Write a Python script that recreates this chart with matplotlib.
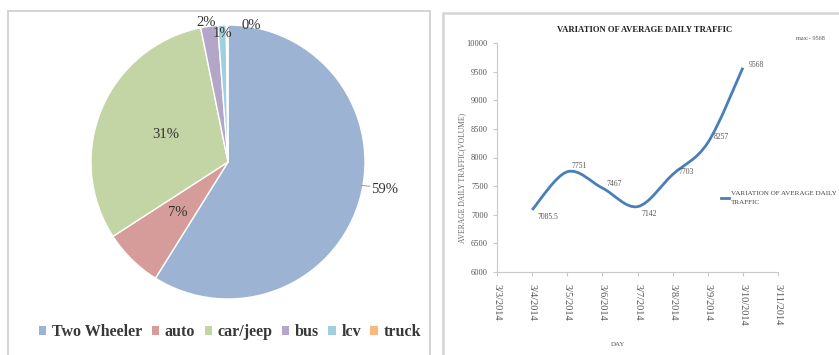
import numpy as np
import matplotlib
matplotlib.use("Agg")
import matplotlib.pyplot as plt
from matplotlib.path import Path
from matplotlib.patches import PathPatch, Rectangle
from matplotlib.lines import Line2D

# vehicle composition (percent)
vehicles = ['Two Wheeler', 'auto', 'car/jeep', 'bus', 'lcv', 'truck']
shares = [59., 7., 31., 2., 1., 0.2]
colors = ['#9db3d3', '#d59c9a', '#c3d4a5', '#b3a6c9', '#9fd0e0', '#f6b980']

# average daily traffic
days = [4, 5, 6, 7, 8, 9, 10]
traffic = [7085.5, 7751, 7467, 7142, 7703, 8257, 9568]
day_ticks = [3, 4, 5, 6, 7, 8, 9, 10, 11]
day_labels = ['3/%d/2014' % d for d in day_ticks]

W, H = 839, 355
fig = plt.figure(figsize=(W / 100, H / 100), dpi=100)
serif = 'Liberation Serif'

def fx(px):
    return px / W

def fy(py):
    return 1 - py / H

# panel frames
fig.patches.append(Rectangle((fx(8), fy(360)), fx(430) - fx(8), fy(11) - fy(360),
                             transform=fig.transFigure, fill=False, ec='#cdcdcd', lw=1.2))
fig.patches.append(Rectangle((fx(443), fy(360)), fx(860) - fx(443), fy(13) - fy(360),
                             transform=fig.transFigure, fill=False, ec='#d4d4d4', lw=1.8))

# ---- pie ----
cx, cy, r = 228, 162, 137
ax1 = fig.add_axes([fx(cx - r), fy(cy + r), fx(2 * r), (2 * r) / H])
wedges, _ = ax1.pie(shares, colors=colors, startangle=90, counterclock=False,
                    wedgeprops=dict(edgecolor='white', linewidth=1))
ax1.set_xlim(-1, 1)
ax1.set_ylim(-1, 1)
ax1.set_aspect('equal')

# label distance / angle nudge per slice
lab_dist = [1.16, 0.52, 0.50, 1.03, 0.94, 1.01]
lab_shift = [6, 0, -1, 1, 0, -10]
for i, w in enumerate(wedges):
    ang = np.deg2rad((w.theta1 + w.theta2) / 2 + lab_shift[i])
    tx, ty = lab_dist[i] * np.cos(ang), lab_dist[i] * np.sin(ang)
    ax1.text(tx, ty, '%.0f%%' % shares[i], ha='center', va='center',
             fontsize=10.5, family=serif, color='#333333', clip_on=False)
# leader line for the outside label
ang = np.deg2rad((wedges[0].theta1 + wedges[0].theta2) / 2 + 6)
ax1.plot([0.99 * np.cos(ang), 1.05 * np.cos(ang)], [0.99 * np.sin(ang), 1.02 * np.sin(ang)],
         color='#888888', lw=0.6, clip_on=False)

handles = [Rectangle((0, 0), 1, 1, fc=c, ec='none') for c in colors]
fig.legend(handles, vehicles, loc='center', bbox_to_anchor=(fx(230), fy(332)), ncol=6,
           frameon=False, handlelength=0.45, handleheight=0.45, handletextpad=0.35,
           columnspacing=0.6, prop=dict(family=serif, size=11.5, weight='bold'),
           labelcolor='#383838')

# ---- line chart ----
ax2 = fig.add_axes([fx(497), fy(272), fx(778) - fx(497), (272 - 43) / H])
x = np.array(days, float)
y = np.array(traffic, float)
verts = [(x[0], y[0])]
codes = [Path.MOVETO]
n = len(x)
for i in range(n - 1):
    p0 = np.array([x[max(i - 1, 0)], y[max(i - 1, 0)]])
    p1 = np.array([x[i], y[i]])
    p2 = np.array([x[i + 1], y[i + 1]])
    p3 = np.array([x[min(i + 2, n - 1)], y[min(i + 2, n - 1)]])
    c1 = p1 + (p2 - p0) / 6
    c2 = p2 - (p3 - p1) / 6
    verts += [tuple(c1), tuple(c2), tuple(p2)]
    codes += [Path.CURVE4] * 3
ax2.add_patch(PathPatch(Path(verts, codes), fc='none', ec='#4a7ebb', lw=2))

ax2.set_xlim(3, 11)
ax2.set_ylim(6000, 10000)
ax2.set_xticks(day_ticks)
ax2.set_xticklabels(day_labels, rotation=-90, fontsize=7.5, family=serif)
ax2.set_yticks(np.arange(6000, 10001, 500))
ax2.set_yticklabels([str(v) for v in range(6000, 10001, 500)], fontsize=6, family=serif)
for s in ['top', 'right']:
    ax2.spines[s].set_visible(False)
for s in ['left', 'bottom']:
    ax2.spines[s].set_color('#c8c8c8')
ax2.tick_params(colors='#c8c8c8', length=3, width=0.8, labelcolor='#555555')
ax2.tick_params(axis='x', pad=6)

offs = [(4, -5), (3, 4), (3, 3), (3, -5), (4, 2), (4, 4), (4, 2)]
for xi, yi, o in zip(days, traffic, offs):
    ax2.annotate('%g' % yi, (xi, yi), xytext=o, textcoords='offset points',
                 fontsize=5.5, family=serif, color='#555555', va='center')

ax2.set_ylabel('AVERAGE DAILY TRAFFIC(VOLUME)', fontsize=5.5, family=serif,
               color='#666666')
ax2.yaxis.set_label_coords(-0.11, 0.41)
ax2.set_xlabel('DAY', fontsize=5, family=serif, color='#555555')
ax2.xaxis.set_label_coords(0.43, -0.305)

fig.text(fx(645), fy(30), 'VARIATION OF AVERAGE DAILY TRAFFIC', ha='center', va='center',
         fontsize=6.2, family=serif, weight='bold', color='#222222')
fig.text(fx(810), fy(38), 'max:- %g' % max(traffic), ha='center', va='center',
         fontsize=4.5, family=serif, color='#555555')

lh = Line2D([], [], color='#4a7ebb', lw=2)
leg = ax2.legend([lh], ['VARIATION OF AVERAGE DAILY\nTRAFFIC'], loc='center left',
                 bbox_to_anchor=(fx(718), fy(198)), bbox_transform=fig.transFigure,
                 frameon=False, handlelength=1.1, handletextpad=0.3, borderaxespad=0,
                 prop=dict(family=serif, size=5.1), labelcolor='#444444')
for t in leg.get_texts():
    t.set_linespacing(2.0)

fig.savefig('out.png', dpi=100, facecolor='white')
